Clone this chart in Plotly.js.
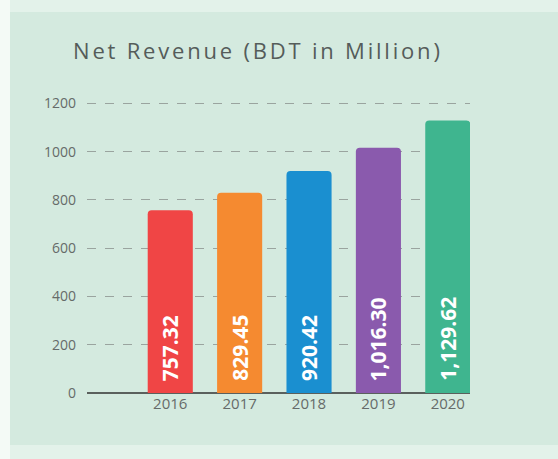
<!DOCTYPE html>
<html>
<head>
<meta charset="utf-8">
<script src="https://cdn.plot.ly/plotly-3.0.1.min.js"></script>
<style>
  html, body { margin: 0; padding: 0; width: 558px; height: 459px; overflow: hidden; background: #e3f2ea; }
  #leftstrip { position: absolute; left: 0; top: 0; width: 10px; height: 459px; background: #f4faf6; }
  #chart { position: absolute; left: 10px; top: 12px; width: 548px; height: 433px; }
  #chart .gtitle { letter-spacing: 2.8px; }
</style>
</head>
<body>
<div id="leftstrip"></div>
<div id="chart"></div>
<script>
const years = ["2016", "2017", "2018", "2019", "2020"];
const revenue = [757.32, 829.45, 920.42, 1016.30, 1129.62];
const barColors = ["#f04545", "#f58a30", "#1a8fd0", "#8a5aad", "#3fb58f"];
const yTicks = [0, 200, 400, 600, 800, 1000, 1200];
const titleText = "Net Revenue (BDT in Million)";

const fmt = v => v.toLocaleString("en-US", { minimumFractionDigits: 2, maximumFractionDigits: 2 });

const trace = {
  type: "bar",
  x: years,
  y: revenue,
  marker: { color: barColors, cornerradius: 4, line: { width: 0 } },
  width: 0.65,
  hoverinfo: "none"
};

const annotations = years.map((yr, i) => ({
  x: i,
  y: 0,
  xref: "x",
  yref: "y",
  text: "<b>" + fmt(revenue[i]) + "</b>",
  showarrow: false,
  textangle: -90,
  xanchor: "center",
  yanchor: "bottom",
  yshift: 10,
  font: { family: "Open Sans, sans-serif", size: 21, color: "#ffffff" }
}));

const layout = {
  width: 548,
  height: 433,
  margin: { l: 77, r: 88, t: 89, b: 52 },
  paper_bgcolor: "#d4eadf",
  plot_bgcolor: "rgba(0,0,0,0)",
  showlegend: false,
  annotations: annotations,
  title: {
    text: titleText,
    font: { family: "Open Sans, sans-serif", size: 22, color: "#555c5a" },
    x: 0.115, xanchor: "left",
    y: 1, yref: "paper", yanchor: "bottom",
    pad: { b: 42 }
  },
  xaxis: {
    type: "category",
    range: [-1.2, 4.32],
    showgrid: false,
    showline: false,
    zeroline: false,
    ticks: "",
    tickfont: { family: "Open Sans, sans-serif", size: 15, color: "#666b69" },
    ticklabelstandoff: 0,
    fixedrange: true
  },
  yaxis: {
    range: [0, 1210],
    tickvals: yTicks,
    ticktext: yTicks.map(String),
    showgrid: true,
    gridcolor: "#9aa49f",
    griddash: "dash",
    gridwidth: 1,
    zeroline: true,
    zerolinecolor: "#5a605d",
    zerolinewidth: 1.5,
    showline: false,
    ticks: "",
    ticklabelstandoff: 10,
    tickfont: { family: "Open Sans, sans-serif", size: 14, color: "#666b69" },
    fixedrange: true
  }
};

Plotly.newPlot("chart", [trace], layout, { displayModeBar: false, staticPlot: true });
</script>
</body>
</html>
